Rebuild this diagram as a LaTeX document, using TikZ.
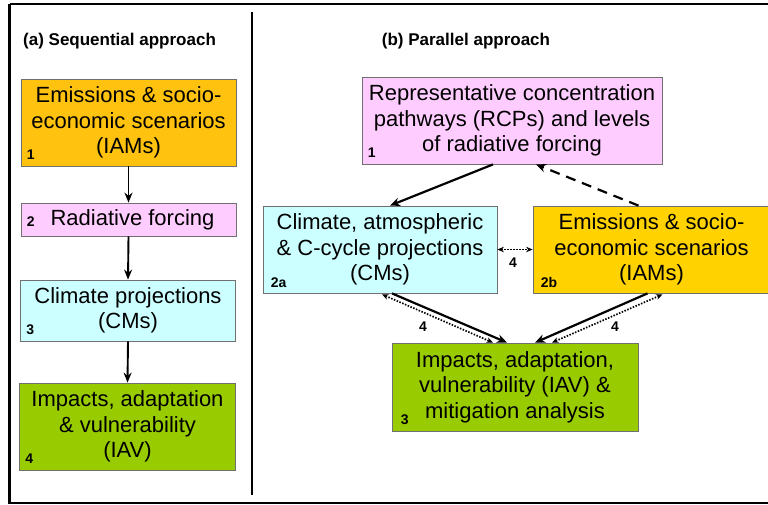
\documentclass[tikz,border=0pt]{standalone}
\usepackage{fontspec}
\setmainfont{Liberation Sans}
\usetikzlibrary{arrows.meta,calc}
\definecolor{orangeA}{HTML}{FFC20E}
\definecolor{orangeB}{HTML}{FFD200}
\definecolor{pinkbox}{HTML}{FFCCFF}
\definecolor{cyanbox}{HTML}{CCFFFF}
\definecolor{greenbox}{HTML}{99CC00}
\definecolor{edgegray}{HTML}{707070}
\tikzset{
  box/.style={draw=edgegray, line width=0.8pt, inner sep=0pt, align=center,
    font=\fontsize{22}{25.5}\selectfont},
  num/.style={anchor=south west, inner sep=0pt, font=\fontsize{14}{16}\selectfont\bfseries},
  lab/.style={inner sep=0pt, font=\fontsize{14}{16}\selectfont\bfseries},
  title/.style={inner sep=0pt, font=\fontsize{17}{20}\selectfont\bfseries},
  seqarrow/.style={line width=1.9pt, -{Stealth[length=10pt,width=8pt]}},
  bigarrow/.style={line width=2.2pt, -{Stealth[length=10pt,width=8.5pt]}},
  dasharrow/.style={line width=2.2pt, dash pattern=on 10pt off 7pt, -{Stealth[length=10pt,width=8.5pt]}},
  dotarrow/.style={line width=1.7pt, dash pattern=on 1.5pt off 1.5pt, {Stealth[length=6.5pt,width=5.5pt]}-{Stealth[length=6.5pt,width=5.5pt]}},
}
\begin{document}
\begin{tikzpicture}[x=1pt,y=-1pt]
\clip (0,0) rectangle (768,504);
\fill[white] (0,0) rectangle (768,504);
% frame
\draw[line width=2.6pt] (9.5,4) -- (790,4);
\draw[line width=2.6pt] (9.5,4) -- (9.5,502.8) -- (790,502.8);
\draw[line width=2.6pt] (252,12) -- (252,495);

% titles
\node[title, anchor=west] (ta) at (23,41) {(a) Sequential approach};
\node[title] (tb) at (466,41) {(b) Parallel approach};

% left column
\node[box, fill=orangeA, minimum width=215pt, minimum height=87pt] (L1) at (128.5,122.5)
  {Emissions \& socio-\\economic scenarios\\(IAMs)};
\node[num] (n1) at ($(L1.south west)+(6,-7)$) {1};
\node[box, fill=pinkbox, minimum width=215pt, minimum height=33pt] (L2) at (128.5,219.5)
  {\hspace*{8pt}Radiative forcing};
\node[num] (n2) at ($(L2.south west)+(6,-10)$) {2};
\node[box, fill=cyanbox, minimum width=215pt, minimum height=61pt] (L3) at (128,310.5)
  {Climate projections\\(CMs)};
\node[num] (n3) at ($(L3.south west)+(6,-7)$) {3};
\node[box, fill=greenbox, minimum width=216pt, minimum height=87pt] (L4) at (127.5,426.5)
  {Impacts, adaptation\\\& vulnerability\\(IAV)};
\node[num] (n4) at ($(L4.south west)+(6,-7)$) {4};

\draw[seqarrow] (L1.south) -- (L2.north);
\draw[seqarrow] (L2.south) -- (L3.north);
\draw[seqarrow] (L3.south) -- (L4.north);

% right column
\node[box, fill=pinkbox, minimum width=300pt, minimum height=87pt] (R1) at (512,120.5)
  {Representative concentration\\pathways (RCPs) and levels\\of radiative forcing};
\node[num] (m1) at ($(R1.south west)+(6,-7)$) {1};
\node[box, fill=cyanbox, minimum width=234pt, minimum height=87pt] (R2a) at (380,249.5)
  {Climate, atmospheric\\\& C-cycle projections\\(CMs)};
\node[num] (m2a) at ($(R2a.south west)+(8,-6)$) {2a};
\node[box, fill=orangeB, minimum width=237pt, minimum height=87pt] (R2b) at (651.5,249.5)
  {Emissions \& socio-\\economic scenarios\\(IAMs)};
\node[num] (m2b) at ($(R2b.south west)+(8,-6)$) {2b};
\node[box, fill=greenbox, minimum width=246pt, minimum height=88pt] (R3) at (515,387)
  {Impacts, adaptation,\\vulnerability (IAV) \&\\mitigation analysis};
\node[num] (m3) at ($(R3.south west)+(9,-7)$) {3};

\draw[bigarrow] ($(R1.south)+(-19,0)$) -- ($(R2a.north)+(10,0)$);
\draw[dasharrow] ($(R2b.north)+(-13,0)$) -- ($(R1.south)+(24,0)$);
\draw[dotarrow] (R2a.east) -- (R2b.west);
\node[lab] (l1) at (513,263) {4};

\draw[bigarrow] ($(R2a.south)+(12,0)$) -- ($(R3.north)+(-8,0)$);
\draw[dotarrow] ($(R2a.south)+(2,1)$) -- ($(R3.north)+(-22,0)$);
\node[lab] (l2) at (423,327) {4};

\draw[bigarrow] ($(R2b.south)+(-4,0)$) -- ($(R3.north)+(20,0)$);
\draw[dotarrow] ($(R2b.south)+(11,1)$) -- ($(R3.north)+(37,0)$);
\node[lab] (l3) at (615,327) {4};
\end{tikzpicture}
\end{document}
